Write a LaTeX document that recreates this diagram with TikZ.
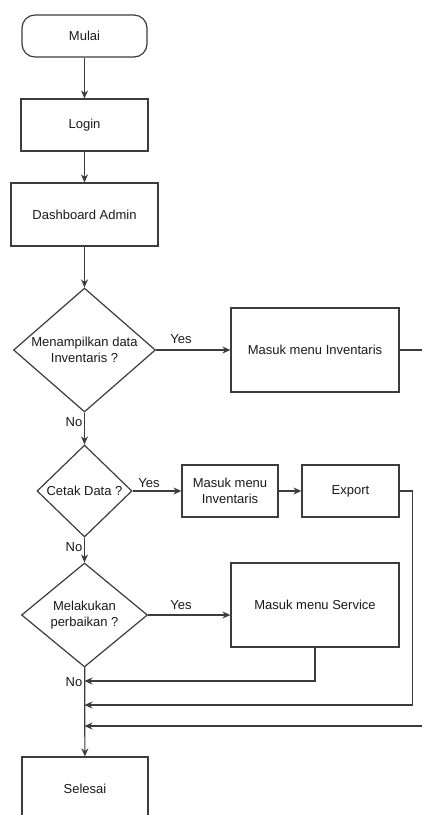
\documentclass[tikz,border=0pt]{standalone}
\usepackage{fontspec}
\setmainfont{Liberation Sans}
\usetikzlibrary{shapes.geometric,arrows.meta}
\definecolor{edge}{HTML}{3C3C3C}
\definecolor{ink}{HTML}{1A1A1A}
\tikzset{
  base/.style={draw=edge, line width=1.2pt, text=ink, align=center, inner sep=0pt,
               font=\fontsize{13}{16}\selectfont},
  terminal/.style={base, rectangle, rounded corners=13pt},
  proc/.style={base, rectangle},
  dec/.style={base, diamond},
  txt/.style={text=ink, align=center, inner sep=0pt, font=\fontsize{13}{16}\selectfont},
  arr/.style={draw=edge, line width=1.2pt, -{Stealth[length=8pt,width=7pt]}},
  ln/.style={draw=edge, line width=1.2pt}
}
\begin{document}
\begin{tikzpicture}[x=1pt,y=-1pt]
\useasboundingbox[fill=white] (0,0) rectangle (422,815);

% main column
\node[terminal, minimum width=125pt, minimum height=42pt] (start) at (84.5,36) {Mulai};
\node[proc, minimum width=127pt, minimum height=52pt] (login) at (84.5,125) {Login};
\node[proc, minimum width=147pt, minimum height=63pt] (dash) at (84.5,214.5) {Dashboard Admin};

\node[dec, minimum width=142pt, minimum height=124pt] (d1) at (84.5,350) {};
\node[txt] (d1t) at (d1.center) {Menampilkan data\\Inventaris ?};

\node[dec, minimum width=95pt, minimum height=92pt] (d2) at (84.5,491) {};
\node[txt] (d2t) at (d2.center) {Cetak Data ?};

\node[dec, minimum width=126pt, minimum height=104pt] (d3) at (84.5,615) {};
\node[txt] (d3t) at (d3.center) {Melakukan\\perbaikan ?};

\node[proc, minimum width=126pt, minimum height=64pt] (fin) at (85,789) {Selesai};

% right-hand boxes
\node[proc, minimum width=168pt, minimum height=84pt] (mi1) at (315,350) {Masuk menu Inventaris};
\node[proc, minimum width=96pt, minimum height=52pt] (mi2) at (230,491) {Masuk menu\\Inventaris};
\node[proc, minimum width=97pt, minimum height=52pt] (exp) at (350.5,491) {Export};
\node[proc, minimum width=168pt, minimum height=84pt] (svc) at (315,605) {Masuk menu Service};

% join points on the main line
\coordinate (j1) at (84.5,681);
\coordinate (j2) at (84.5,705);
\coordinate (j3) at (84.5,726);

% flow
\draw[arr] (start) -- (login);
\draw[arr] (login) -- (dash);
\draw[arr] (dash) -- (d1);
\draw[arr] (d1) -- (d2);
\draw[arr] (d2) -- (d3);
\draw[arr] (d3) -- (fin);

\draw[arr] (d1.east) -- (mi1.west);
\draw[arr] (d2.east) -- (mi2.west);
\draw[arr] (mi2.east) -- (exp.west);
\draw[arr] (d3.east) -- (d3.east -| svc.west);

\draw[arr] (svc.south) |- (j1);
\draw[arr] (exp.east) -- ++(13,0) |- (j2);
\draw[arr] (mi1.east) -- ++(31,0) |- (j3);

% branch labels
\node[txt] (y1) at (181,339) {Yes};
\node[txt] (y2) at (149,483) {Yes};
\node[txt] (y3) at (181,605) {Yes};
\node[txt] (n1) at (74,422) {No};
\node[txt] (n2) at (74,547) {No};
\node[txt] (n3) at (74,682) {No};
\end{tikzpicture}
\end{document}
